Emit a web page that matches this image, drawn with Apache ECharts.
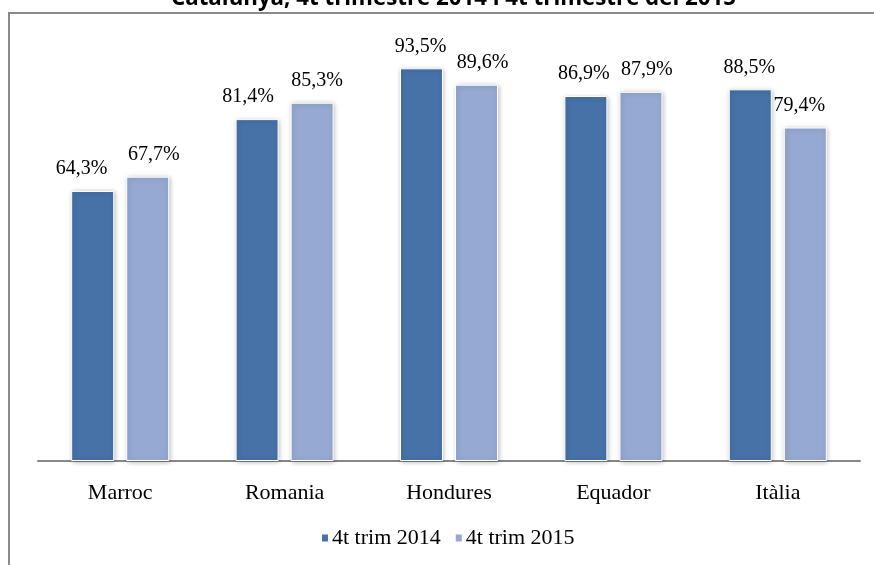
<!DOCTYPE html>
<html>
<head>
<meta charset="utf-8">
<style>html,body{margin:0;padding:0;background:#fff;}#c{width:874px;height:565px;}</style>
<script src="https://cdn.jsdelivr.net/npm/echarts@6/dist/echarts.min.js"></script>
</head>
<body>
<div id="c"></div>
<script>
var titleText = 'Catalunya, 4t trimestre 2014 i 4t trimestre del 2015';
var categories = ['Marroc', 'Romania', 'Hondures', 'Equador', 'Itàlia'];
var seriesNames = ['4t trim 2014', '4t trim 2015'];
var values2014 = [64.3, 81.4, 93.5, 86.9, 88.5];
var values2015 = [67.7, 85.3, 89.6, 87.9, 79.4];
var colors = ['#4672A8', '#95A9D2'];
// horizontal nudges of the value labels, as placed in the original
var labelShift2014 = [-11, -9, -1, -2, -1];
var labelShift2015 = [6, 5, 6, 6, -6];

var chart = echarts.init(document.getElementById('c'), null, {renderer: 'canvas'});
function fmt(p) { return p.value.toFixed(1).replace('.', ',') + '%'; }
function mk(name, vals, shifts, color) {
  var data = vals.map(function (v, i) {
    return {value: v, label: {offset: [shifts[i], 0]}};
  });
  return {
    name: name, type: 'bar', data: data, barWidth: 43, barGap: '28%',
    itemStyle: {color: color, borderColor: '#ffffff', borderWidth: 1,
      shadowColor: 'rgba(0,0,0,0.28)', shadowBlur: 5, shadowOffsetX: 1, shadowOffsetY: 1},
    label: {show: true, position: 'top', distance: 12, formatter: fmt,
      fontFamily: 'Liberation Serif', fontSize: 20, color: '#000'}
  };
}
chart.setOption({
  animation: false,
  color: colors,
  title: {text: titleText, left: 166, top: -17,
    textStyle: {fontFamily: 'Open Sans', fontWeight: 'bold', fontSize: 22.3, color: '#000'}},
  graphic: [{type: 'rect', shape: {x: 9, y: 13, width: 900, height: 600},
    style: {fill: 'none', stroke: '#8a8a8a', lineWidth: 2}, z: -1}],
  grid: {left: 38, right: 14, top: 41, bottom: 104},
  legend: {data: seriesNames, top: 522, left: 315, icon: 'rect', itemWidth: 8, itemHeight: 9,
    itemGap: 13,
    textStyle: {fontFamily: 'Liberation Serif', fontSize: 22, color: '#000', padding: [0, 0, 0, -2]}},
  xAxis: {type: 'category', data: categories,
    axisLine: {lineStyle: {color: '#888', width: 2}}, axisTick: {show: false},
    axisLabel: {fontFamily: 'Liberation Serif', fontSize: 22, color: '#000', margin: 21}},
  yAxis: {type: 'value', min: 0, max: 100, show: false, splitLine: {show: false}},
  series: [mk(seriesNames[0], values2014, labelShift2014, colors[0]),
           mk(seriesNames[1], values2015, labelShift2015, colors[1])]
});
</script>
</body>
</html>
